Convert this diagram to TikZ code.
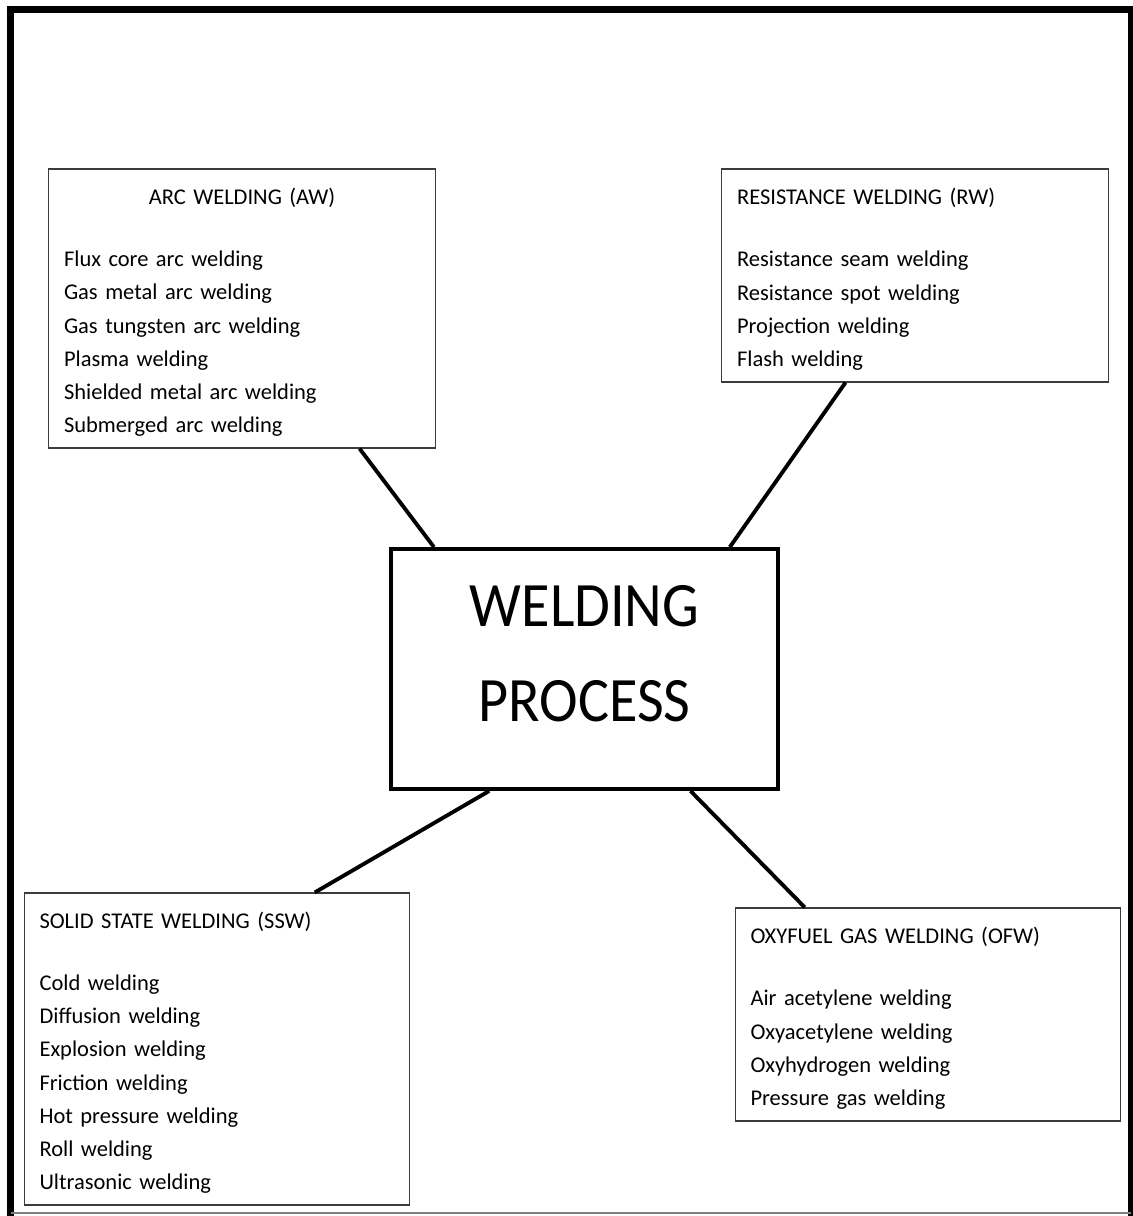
\documentclass[tikz,border=0pt]{standalone}
\usepackage{fontspec}
\setmainfont{Carlito}
\usepackage{tikz}
\usetikzlibrary{positioning}
\definecolor{boxgray}{RGB}{60,60,60}
\tikzset{
  groupbox/.style={draw=boxgray, line width=0.7pt, rectangle, inner xsep=0.31cm,
    text width=7.12cm, align=left, execute at begin node={\rule{0pt}{13.5pt}},
    font=\fontsize{12.8}{18.85}\selectfont},
  mainbox/.style={draw=black, line width=2.2pt, rectangle, minimum width=7.74cm,
    minimum height=4.8cm, align=center, text depth=18pt,
    font=\fontsize{36}{53.9}\selectfont},
  link/.style={draw=black, line width=2.2pt},
}
\newcommand{\grouptitle}[1]{\makebox[\linewidth]{#1}}
\newcommand{\bigword}[1]{\scalebox{0.92}[1]{#1}}

\begin{document}
\begin{tikzpicture}[x=0.02cm, y=-0.02cm]
        \useasboundingbox (0,0) rectangle (1132,1216);
        % outer frame
        \draw [line width=4pt, line cap=rect] (10.5,1213) -- (10.5,9.5) -- (1131,9.5) -- (1131,1213);
        \draw [gray, line width=0.6pt] (10.5,1213) -- (1131,1213);

        % centre
        \node[mainbox] (wp) at (584.5,669) {\bigword{WELDING}\\\bigword{PROCESS}};

        % the four groups
        \node[groupbox, minimum height=5.58cm] (aw) at (242,308.5) {\grouptitle{ARC WELDING (AW)}\\[16.6pt]
          Flux core arc welding\\
          Gas metal arc welding\\
          Gas tungsten arc welding\\
          Plasma welding\\
          Shielded metal arc welding\\
          Submerged arc welding};
        \node[groupbox, minimum height=4.26cm] (rw) at (915,275.5) {RESISTANCE WELDING (RW)\\[16.6pt]
          Resistance seam welding\\
          Resistance spot welding\\
          Projection welding\\
          Flash welding};
        \node[groupbox, text width=7.1cm, inner xsep=0.3cm, minimum height=6.24cm] (ssw) at (217,1049) {SOLID STATE WELDING (SSW)\\[16.6pt]
          Cold welding\\
          Diffusion welding\\
          Explosion welding\\
          Friction welding\\
          Hot pressure welding\\
          Roll welding\\
          Ultrasonic welding};
        \node[groupbox, text width=7.1cm, inner xsep=0.3cm, minimum height=4.26cm] (ofw) at (928,1014.5) {OXYFUEL GAS WELDING (OFW)\\[16.6pt]
          Air acetylene welding\\
          Oxyacetylene welding\\
          Oxyhydrogen welding\\
          Pressure gas welding};

        % links
        \draw [link] (aw.-50.5) -- (wp.141.1);
        \draw [link] (rw.-123.3) -- (wp.40.9);
        \draw [link] (wp.-128.5) -- (ssw.58.4);
        \draw [link] (wp.-49.2) -- (ofw.139.8);
      \end{tikzpicture}
\end{document}
